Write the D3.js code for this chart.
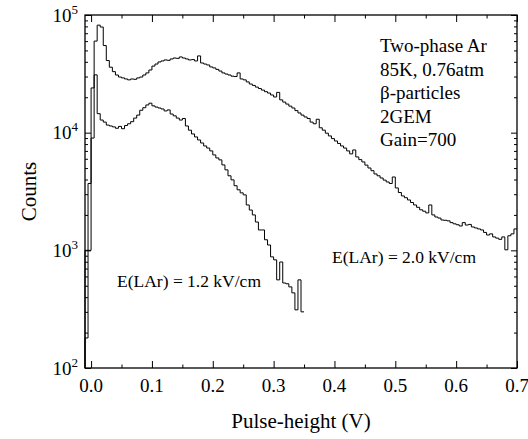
<!DOCTYPE html>
<html>
<head>
<meta charset="utf-8">
<script src="https://cdn.jsdelivr.net/npm/d3@7"></script>
<style>
  body { margin: 0; background: #fff; }
  text { font-family: "Liberation Serif", "Times New Roman", serif; fill: #000; }
</style>
</head>
<body>
<script>
    var w = 528;
    var h = 439;

    // histogram bins: 0.005 V wide, first bin starts at -0.010 V
    var binWidth = 0.005;
    var binStart = -0.010;

    // E(LAr) = 2.0 kV/cm
    var counts20 = [
        1000, 3700, 24000, 60000, 82000, 79000, 55000, 41000, 36000, 33000,
        30900, 29700, 29200, 28600, 28100, 28600, 28400, 29200, 29700, 30900,
        32200, 34100, 36800, 38300, 39900, 40700, 41500, 41200, 42300, 43100,
        42800, 44000, 43100, 42300, 41500, 41800, 40700, 44900, 39100, 38300,
        37600, 36200, 35500, 34500, 33400, 32200, 31500, 30900, 30200, 30000,
        32200, 28600, 28100, 27000, 25900, 25200, 24400, 23700, 23000, 22300,
        21700, 20900, 20100, 22000, 19000, 18200, 17500, 16800, 16200, 15400,
        14700, 14100, 13600, 13200, 12300, 11900, 13000, 11000, 10500, 9900,
        9380, 8900, 8500, 8100, 7710, 7400, 7000, 6600, 7130, 6220,
        5900, 5640, 5300, 5010, 4750, 4460, 4300, 4120, 3950, 3810,
        3700, 4200, 3390, 3100, 2900, 2800, 2680, 2550, 2430, 2320,
        2210, 2150, 2080, 2430, 2000, 1920, 1880, 1810, 1800, 1780,
        1720, 1680, 1650, 1610, 1720, 1640, 1660, 1580, 1550, 1520,
        1490, 1420, 1350, 1380, 1300, 1270, 1240, 1300, 1010, 1330,
        1380, 1520
    ];

    // E(LAr) = 1.2 kV/cm
    var counts12 = [
        180, 1000, 9000, 31000, 14500, 12800, 12300, 11600, 11400, 11200,
        10900, 11300, 10800, 11500, 11900, 12400, 13300, 14100, 15500, 16300,
        17200, 17800, 16900, 16500, 16200, 15900, 15300, 15600, 14400, 13900,
        13300, 12800, 13200, 11400, 10500, 9750, 9200, 8670, 8170, 7710,
        7400, 7000, 6470, 6100, 5870, 5320, 4830, 4300, 3970, 3540,
        3270, 3080, 2960, 2430, 2200, 2000, 1740, 1490, 1490, 1230,
        1110, 880, 830, 561, 796, 528, 520, 489, 435, 312,
        561, 300
    ];

    var xTicks = [0, 0.1, 0.2, 0.3, 0.4, 0.5, 0.6, 0.7];
    var xMinorTicks = [0.05, 0.15, 0.25, 0.35, 0.45, 0.55, 0.65];
    var yTicks = [1e2, 1e3, 1e4, 1e5];
    var yExponents = ["2", "3", "4", "5"];

    var notes = ["Two-phase Ar", "85K, 0.76atm", "\u03b2-particles", "2GEM", "Gain=700"];

    var plotLeft = 85, plotRight = 517, plotTop = 15, plotBottom = 368;

    var svg = d3.select("body")
                .append("svg")
                .attr("width", w)
                .attr("height", h);

    svg.append("rect").attr("width", w).attr("height", h).attr("fill", "#fff");

    var x = d3.scaleLinear().domain([-0.01, 0.7]).range([plotLeft, plotRight]);
    var y = d3.scaleLog().domain([1e2, 1e5]).range([plotBottom, plotTop]);

    // minor log ticks 2..9 in every decade
    var yMinor = [];
    [1e2, 1e3, 1e4].forEach(function(d) {
        for (var k = 2; k <= 9; k++) yMinor.push(d * k);
    });

    function drawAxis(axis, tx, ty) {
        var g = svg.append("g")
                   .attr("transform", "translate(" + tx + "," + ty + ")")
                   .call(axis);
        g.select(".domain").remove();
        g.selectAll("line").attr("stroke", "#000").attr("stroke-width", 1);
        return g;
    }

    drawAxis(d3.axisBottom(x).tickValues(xTicks).tickSize(-7).tickFormat(""), 0, plotBottom);
    drawAxis(d3.axisTop(x).tickValues(xTicks).tickSize(-7).tickFormat(""), 0, plotTop);
    drawAxis(d3.axisBottom(x).tickValues(xMinorTicks).tickSize(-3.5).tickFormat(""), 0, plotBottom);
    drawAxis(d3.axisTop(x).tickValues(xMinorTicks).tickSize(-3.5).tickFormat(""), 0, plotTop);

    drawAxis(d3.axisLeft(y).tickValues(yTicks).tickSize(-6).tickFormat(""), plotLeft, 0);
    drawAxis(d3.axisRight(y).tickValues(yTicks).tickSize(-6).tickFormat(""), plotRight, 0);
    drawAxis(d3.axisLeft(y).tickValues(yMinor).tickSize(-3).tickFormat(""), plotLeft, 0);
    drawAxis(d3.axisRight(y).tickValues(yMinor).tickSize(-3).tickFormat(""), plotRight, 0);

    // frame
    svg.append("rect")
       .attr("x", plotLeft).attr("y", plotTop)
       .attr("width", plotRight - plotLeft).attr("height", plotBottom - plotTop)
       .attr("fill", "none")
       .attr("stroke", "#000")
       .attr("stroke-width", 1.3);

    // x tick labels
    svg.selectAll(".xlab")
       .data(xTicks)
       .enter()
       .append("text")
       .attr("x", d => x(d))
       .attr("y", 392)
       .attr("text-anchor", "middle")
       .style("font-size", "19px")
       .text(d => d3.format(".1f")(d));

    // y tick labels: 10 with superscript exponent
    var ylab = svg.selectAll(".ylab")
       .data(yTicks)
       .enter()
       .append("text")
       .attr("x", 78)
       .attr("y", d => y(d) + 6.5)
       .attr("text-anchor", "end")
       .style("font-size", "19px");
    ylab.append("tspan").text("10");
    ylab.append("tspan")
        .attr("dy", -8)
        .style("font-size", "13px")
        .text((d, i) => yExponents[i]);

    // axis titles
    svg.append("text")
       .attr("x", (plotLeft + plotRight) / 2)
       .attr("y", 428)
       .attr("text-anchor", "middle")
       .style("font-size", "21px")
       .text("Pulse-height (V)");

    svg.append("text")
       .attr("transform", "translate(36," + ((plotTop + plotBottom) / 2) + ") rotate(-90)")
       .attr("text-anchor", "middle")
       .style("font-size", "21px")
       .text("Counts");

    // step histograms
    function toPoints(counts) {
        var pts = [[binStart, y.domain()[0]]];
        counts.forEach(function(c, i) {
            pts.push([binStart + i * binWidth, c]);
        });
        pts.push([binStart + counts.length * binWidth, counts[counts.length - 1]]);
        return pts;
    }

    var line = d3.line()
                 .x(d => x(d[0]))
                 .y(d => y(d[1]))
                 .curve(d3.curveStepAfter);

    [counts20, counts12].forEach(function(c) {
        svg.append("path")
           .attr("d", line(toPoints(c)))
           .attr("fill", "none")
           .attr("stroke", "#000")
           .attr("stroke-width", 1);
    });

    // annotations
    svg.selectAll(".note")
       .data(notes)
       .enter()
       .append("text")
       .attr("x", 380)
       .attr("y", (d, i) => 52 + i * 23.5)
       .style("font-size", "19px")
       .text(d => d);

    svg.append("text")
       .attr("x", 117)
       .attr("y", 287)
       .style("font-size", "17.5px")
       .text("E(LAr) = 1.2 kV/cm");

    svg.append("text")
       .attr("x", 332)
       .attr("y", 263)
       .style("font-size", "17.5px")
       .text("E(LAr) = 2.0 kV/cm");
</script>
</body>
</html>
